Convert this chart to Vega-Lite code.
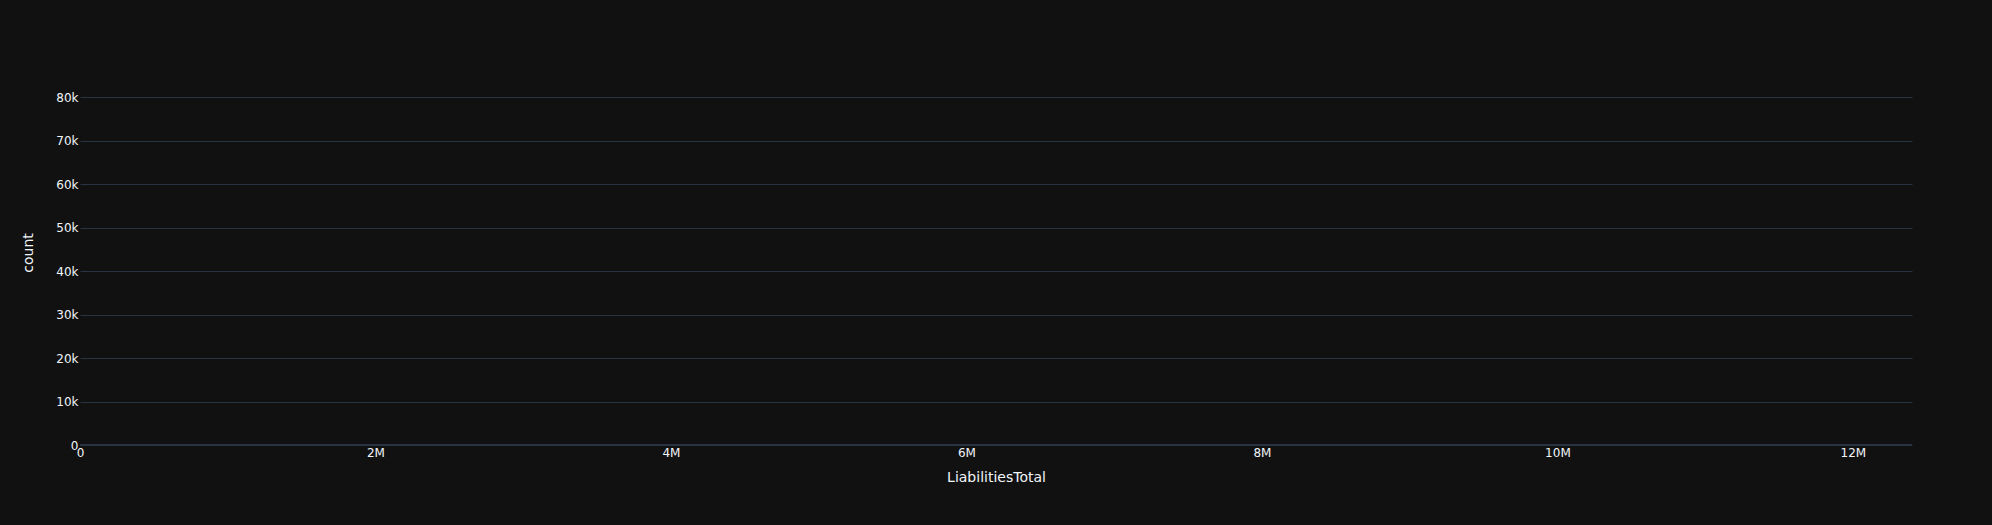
{
  "$schema": "https://vega.github.io/schema/vega-lite/v6.json",
  "width": 1832,
  "height": 385,
  "autosize": {"type": "none"},
  "padding": {"left": 80, "top": 60, "right": 80, "bottom": 80},
  "background": "#111111",
  "config": {
    "view": {"stroke": null},
    "font": "DejaVu Sans",
    "axis": {
      "labelColor": "#f2f5fa",
      "titleColor": "#f2f5fa",
      "labelFontSize": 12,
      "titleFontSize": 14,
      "titleFontWeight": "normal",
      "labelFont": "DejaVu Sans",
      "titleFont": "DejaVu Sans",
      "labelFlush": false,
      "ticks": false,
      "domain": false,
      "gridColor": "#283442",
      "gridWidth": 1
    }
  },
  "data": {
    "values": [
      {"bin_start": 0, "bin_end": 100, "count": 84200},
      {"bin_start": 100, "bin_end": 200, "count": 1500},
      {"bin_start": 200, "bin_end": 300, "count": 600},
      {"bin_start": 300, "bin_end": 400, "count": 300},
      {"bin_start": 12399900, "bin_end": 12400000, "count": 1}
    ]
  },
  "layer": [
    {
      "mark": {"type": "rect", "color": "#636efa"},
      "encoding": {
        "x": {
          "field": "bin_start",
          "type": "quantitative",
          "scale": {"domain": [0, 12400000], "nice": false, "zero": false},
          "axis": {
            "title": "LiabilitiesTotal",
            "values": [0, 2000000, 4000000, 6000000, 8000000, 10000000, 12000000],
            "labelExpr": "datum.value == 0 ? '0' : format(datum.value, '~s')",
            "grid": false,
            "labelPadding": 2,
            "titlePadding": 12
          }
        },
        "x2": {"field": "bin_end"},
        "y": {
          "field": "count",
          "type": "quantitative",
          "scale": {"domain": [0, 88600], "nice": false},
          "axis": {
            "title": "count",
            "values": [0, 10000, 20000, 30000, 40000, 50000, 60000, 70000, 80000],
            "labelExpr": "datum.value == 0 ? '0' : format(datum.value, '~s')",
            "labelPadding": 2,
            "titlePadding": 20
          }
        },
        "y2": {"datum": 0}
      }
    },
    {
      "mark": {"type": "rule", "color": "#283442", "strokeWidth": 2},
      "encoding": {"y": {"datum": 0}}
    }
  ]
}
